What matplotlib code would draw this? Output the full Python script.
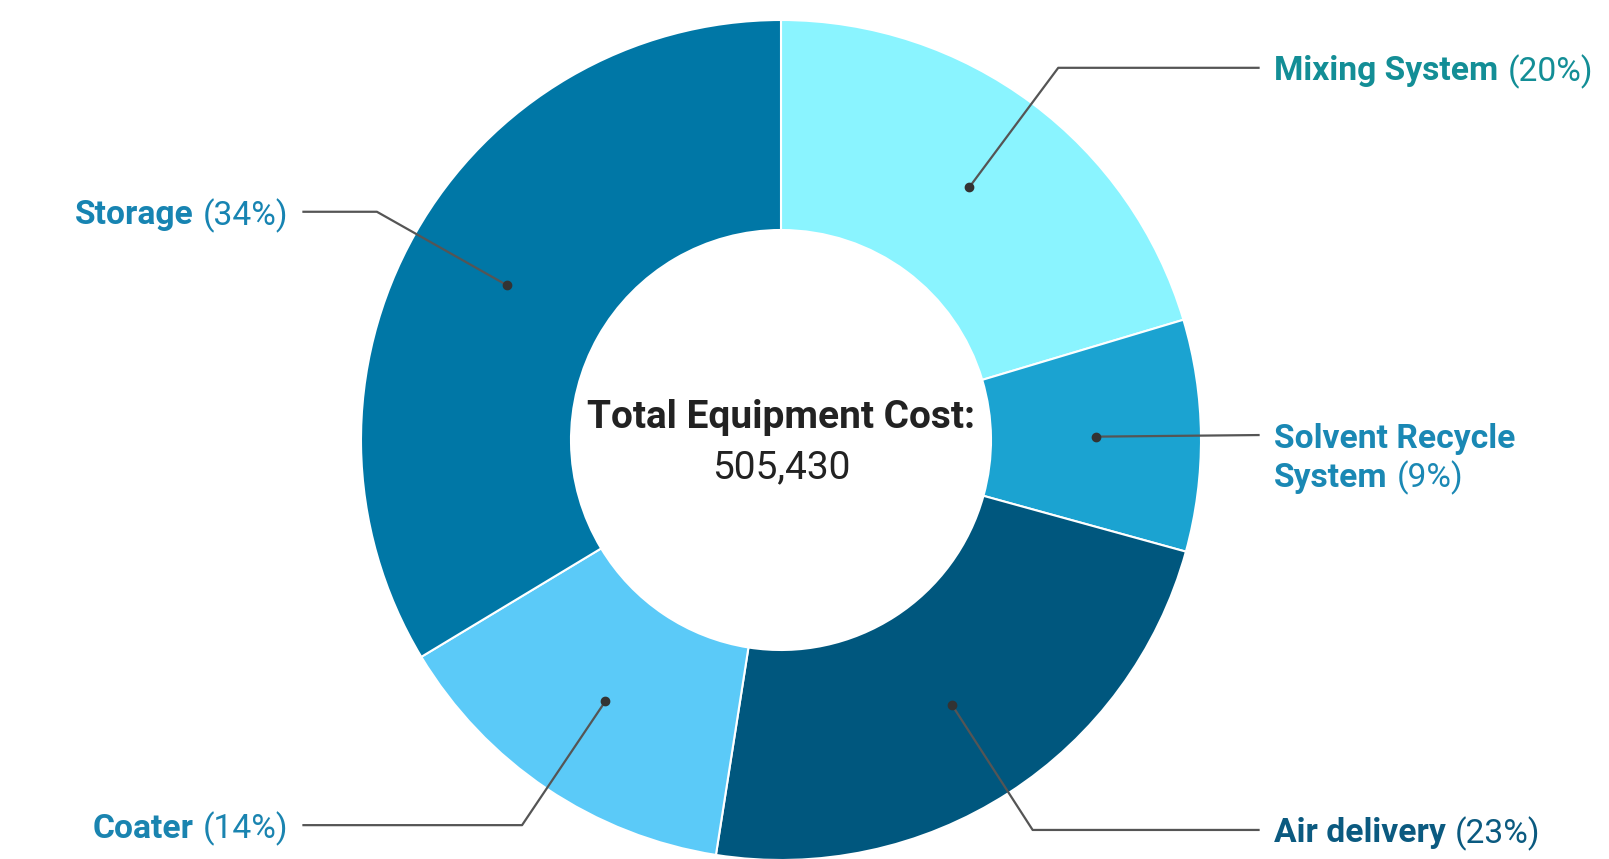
import matplotlib
matplotlib.use("Agg")
import matplotlib.pyplot as plt
import numpy as np

plt.rcParams['font.family'] = ['Roboto', 'DejaVu Sans']

# data
categories = ["Mixing System", "Solvent Recycle\nSystem", "Air delivery", "Coater", "Storage"]
costs = [103000, 45000, 117230, 70200, 170000]
slice_colors = ["#8AF4FF", "#1BA3D1", "#00577E", "#5BCAF8", "#0077A6"]
label_colors = ["#138E96", "#1A88B4", "#0B5A80", "#1A84B0", "#1784B2"]
total_label = "Total Equipment Cost:"

W, H = 1609, 859
fig = plt.figure(figsize=(W / 100, H / 100), dpi=100)
ax = fig.add_axes([0, 0, 1, 1])
R = 420.0
cx, cy = 781.0, 419.0  # centre in px from bottom-left

wedges, _ = ax.pie(costs, colors=slice_colors, startangle=90, counterclock=False,
                   radius=1.0, wedgeprops=dict(width=0.5, edgecolor="white", linewidth=1.5))
# pie resets the limits, so set them afterwards
ax.set_aspect("auto")
ax.set_xlim(-cx / R, (W - cx) / R)
ax.set_ylim(-cy / R, (H - cy) / R)
ax.axis("off")

total = sum(costs)
fs = 24.2
fs_c = 28
renderer = fig.canvas.get_renderer()


def text_width(t):
    bb = t.get_window_extent(renderer=renderer)
    return bb.width / R


for w, name, val, lc in zip(wedges, categories, costs, label_colors):
    ang = np.deg2rad((w.theta1 + w.theta2) / 2)
    mx, my = 0.75 * np.cos(ang), 0.75 * np.sin(ang)
    ex, ey = 1.105 * np.cos(ang), 1.105 * np.sin(ang)
    right = np.cos(ang) > 0
    hx = 1.137 if right else -1.137
    if abs(ey - my) < 0.02:
        ax.plot([mx, hx], [my, ey], color="#555555", lw=1.6, zorder=3)
    else:
        ax.plot([mx, ex, hx], [my, ey, ey], color="#555555", lw=1.6, zorder=3)
    ax.plot(mx, my, "o", color="#333333", ms=6, zorder=4)
    pct = f"({val / total * 100:.0f}%)"
    lines = name.split("\n")
    gap = 9 / R
    tx = 1.174 if right else -1.174
    for i, ln in enumerate(lines):
        y = ey - i * 39 / R
        last = i == len(lines) - 1
        if right:
            t = ax.text(tx, y, ln, ha="left", va="center_baseline", fontsize=fs,
                        fontweight="bold", color=lc)
            if last:
                ax.text(tx + text_width(t) + gap, y, pct, ha="left", va="center_baseline",
                        fontsize=fs, color=lc)
        else:
            p = ax.text(tx, y, pct, ha="right", va="center_baseline", fontsize=fs, color=lc)
            ax.text(tx - text_width(p) - gap, y, ln, ha="right", va="center_baseline",
                    fontsize=fs, fontweight="bold", color=lc)

ax.text(0, 22 / R, total_label, ha="center", va="center", fontsize=fs_c,
        fontweight="bold", color="#222222")
ax.text(0, -28 / R, f"{total:,}", ha="center", va="center", fontsize=fs_c, color="#222222")

fig.savefig("out.png", dpi=100, facecolor="white")
